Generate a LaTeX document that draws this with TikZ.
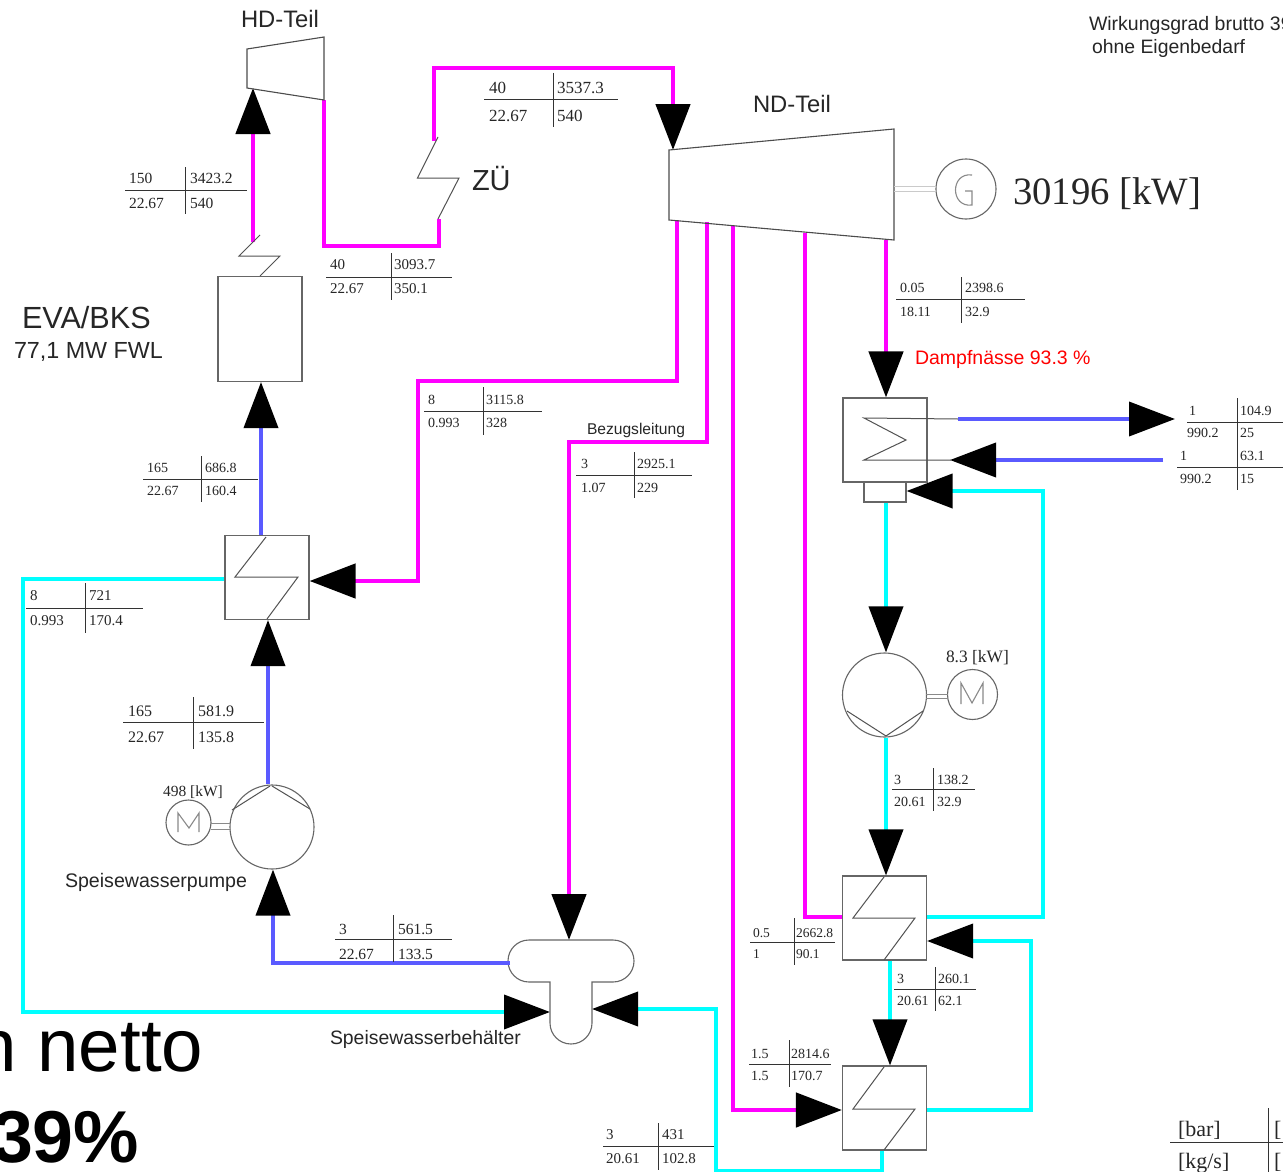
\documentclass[tikz,border=0pt]{standalone}
\usepackage{fontspec}
\setmainfont{Liberation Serif}
\setsansfont{Liberation Sans}
\usetikzlibrary{arrows.meta,calc}
\definecolor{steam}{HTML}{FF00FF}
\definecolor{cool}{HTML}{00FFFF}
\definecolor{feed}{HTML}{5A5AFF}
\definecolor{edge}{HTML}{666666}
\definecolor{shaft}{HTML}{8A8A8A}
\newcount\cellcnt
\newcommand{\fs}[1]{\fontsize{#1}{#1}\selectfont}
% state table cross: x1,x2,y of the bar; xv,y1,y2 of the stem
\newcommand{\rulecross}[6]{\draw[tabrule] (#1,#3) -- (#2,#3) (#4,#5) -- (#4,#6);}
% one table cell: size, x, centre y, text
\newcommand{\cell}[4]{\global\advance\cellcnt by 1
  \node[celltext,font=\fs{#1}] (c\the\cellcnt) at (#2,#3+0.33*#1) {#4};}
\newcommand{\lab}[4]{\global\advance\cellcnt by 1
  \node[celltext,font=\sffamily\fs{#1}] (c\the\cellcnt) at (#2,#3+0.36*#1) {#4};}
\tikzset{
  celltext/.style={anchor=base west,inner sep=0pt,outer sep=0pt,text=black!85},
  tabrule/.style={draw=black!80,line width=1pt},
  part/.style={draw=edge,line width=1.1pt,fill=white,inner sep=0pt},
  thin part/.style={draw=edge!80!black,line width=1pt},
  round part/.style={part,circle},
  turbine/.style={draw=black!70,line width=1.1pt},
  steampipe/.style={draw=steam,line width=4.6pt,miter limit=10},
  coolpipe/.style={draw=cool,line width=3.8pt},
  feedpipe/.style={draw=feed,line width=3.8pt},
  tip/.style={-{Triangle[length=46pt,width=34pt,color=black,fill=black]}},
  shaftline/.style={draw=shaft,line width=1pt},
  glyph/.style={draw=shaft,line width=1.1pt},
}
\begin{document}
\begin{tikzpicture}[x=1pt,y=-1pt]
\useasboundingbox (0,0) rectangle (1283,1172);
\clip (0,0) rectangle (1283,1172);
\fill[white] (0,0) rectangle (1283,1172);

% corner text under everything
\node[celltext,font=\sffamily\fs{74.5},text=black] (nettotext) at (-24.5,1071) {n netto};
\node[celltext,font=\sffamily\bfseries\fs{73.5},text=black] (pct) at (-8,1162) {39\%};

% equipment
\node[part,minimum width=84pt,minimum height=105pt] (eva) at (260,329) {};
\node[part,minimum width=84pt,minimum height=84pt] (hxa) at (267,577.5) {};
\node[part,minimum width=84pt,minimum height=84pt] (hxb) at (884.5,918) {};
\node[part,minimum width=84pt,minimum height=84pt] (hxc) at (884.5,1108) {};
\node[part,minimum width=84pt,minimum height=84pt] (cond) at (885,440) {};
\node[part,minimum width=42pt,minimum height=20pt] (hot) at (885,492) {};
\node[round part,minimum size=84pt] (pumpa) at (272,827) {};
\node[round part,minimum size=84pt] (pumpb) at (884.5,695) {};
\node[round part,minimum size=45pt] (motora) at (188.5,822.5) {};
\node[round part,minimum size=50pt] (motorb) at (972.5,694.5) {};
\node[round part,minimum size=60pt] (gen) at (966,189) {};

% named connection points
\coordinate (hdin) at (253,88);
\coordinate (hdout) at (324,100);
\coordinate (ndin) at (673,150);
\coordinate (evatop) at (253,242);
\coordinate (zuin) at (439,219);
\coordinate (zuout) at (434,141);
\coordinate (ndx1) at (677,220);
\coordinate (ndx2) at (707,222);
\coordinate (ndx3) at (733,226);
\coordinate (ndx4) at (805,233);
\coordinate (ndx5) at (886,240);
\coordinate (tanktop) at (569,940);
\coordinate (tankout) at (510,963);
\coordinate (tankl) at (550,1012);
\coordinate (tankr) at (592,1009);
\coordinate (cwout) at (958,419);
\coordinate (cwoutend) at (1175,419);
\coordinate (cwin) at (1163,460);
\coordinate (cwinend) at (950,460);

% steam lines
\draw[steampipe,tip] (evatop) -- (hdin);
\draw[steampipe] (hdout) -- (324,246) -- (439,246) -- (zuin);
\draw[steampipe,tip] (zuout) -- (434,68) -- (673,68) -- (ndin);
\draw[steampipe,tip] (ndx1) -- (677,381) -- (418,381) -- (418,581) -- (hxa.east |- 0,581);
\draw[steampipe,tip] (ndx2) -- (707,442) -- (569,442) -- (tanktop);
\draw[steampipe,tip] (ndx3) -- (733,1110) -- (hxc.west |- 0,1110);
\draw[steampipe] (ndx4) -- (805,917) -- (hxb.west |- 0,917);
\draw[steampipe,tip] (ndx5) -- (cond.north -| ndx5);

% feed water lines
\draw[feedpipe,tip] (hxa.north -| 261,0) -- (eva.south -| 261,0);
\draw[feedpipe,tip] (pumpa.north -| 268,0) -- (hxa.south -| 268,0);
\draw[feedpipe,tip] (tankout) -- (273,963) -- (pumpa.south -| 273,0);
\draw[feedpipe,tip] (cwout) -- (cwoutend);
\draw[feedpipe,tip] (cwin) -- (cwinend);

% condensate lines
\draw[coolpipe,tip] (hxa.west |- 0,579) -- (23,579) -- (23,1012) -- (tankl);
\draw[coolpipe,tip] (hxc.south -| 882,0) -- (882,1171) -- (716,1171) -- (716,1009) -- (tankr);
\draw[coolpipe,tip] (hxb.east |- 0,917) -- (1043,917) -- (1043,491) -- (hot.east |- 0,491);
\draw[coolpipe,tip] (hot.south -| 886,0) -- (pumpb.north -| 886,0);
\draw[coolpipe,tip] (pumpb.south -| 886,0) -- (hxb.north -| 886,0);
\draw[coolpipe,tip] (hxb.south -| 890,0) -- (hxc.north -| 890,0);
\draw[coolpipe,tip] (hxc.east |- 0,1110) -- (1031,1110) -- (1031,941) -- (hxb.east |- 0,941);

% turbines
\draw[turbine] (247,49) -- (324,37) -- (324,100) -- (247,88) -- cycle;
\draw[turbine] (669,150) -- (894,129) -- (894,240) -- (669,220) -- cycle;

% tank
\draw[part,fill=white] (529,940) -- (613,940) to[out=0,in=90] (634,961) to[out=-90,in=0] (613,982) -- (592,982) -- (592,1023) to[out=-90,in=0] (571,1044) to[out=180,in=-90] (550,1023) -- (550,982) -- (529,982) to[out=180,in=-90] (508,961) to[out=90,in=180] (529,940) -- cycle;
\draw[feedpipe] (tankout) -- ++(-4,0);

% heater zigzags
\draw[thin part] (266,537) -- (235,577) -- (298,577) -- (267,619);
\draw[thin part] (884,877) -- (853,918) -- (915,918) -- (884,960);
\draw[thin part] (884,1067) -- (853,1109) -- (915,1109) -- (884,1150);
\draw[thin part] (260,235) -- (239,256) -- (280,256) -- (260,276);
\draw[thin part] (438,137) -- (417.5,178) -- (459,178) -- (438,219);
\draw[thin part] (958,419) -- (864,418) -- (906,440) -- (864,460) -- (951,460);

% pump details
\draw[thin part] (270,786) -- (232,810) (272,786) -- (310,809);
\draw[thin part] (886,736) -- (847,711) (886,736) -- (923,711);
\draw[shaftline] (211,823) -- (231,823) (211,829) -- (231,829);
\draw[shaftline] (926,694) -- (948,694) (926,698) -- (948,698);
\draw[shaftline,draw=shaft!45] (894,186) -- (936,186) (894,191) -- (936,191);
\draw[glyph] (178,832) -- (178,813) -- (189,828) -- (199,813) -- (199,832);
\draw[glyph] (961,704) -- (961,683) -- (972,703) -- (983,683) -- (983,704);
\draw[glyph] (972,175) .. controls (950,172) and (950,208) .. (972,205) -- (972,191) -- (965,191);

% state tables
\rulecross{125}{247}{190}{185}{167}{214}
\cell{15.5}{129}{178}{150}\cell{15.5}{190}{178}{3423.2}\cell{15.5}{129}{203}{22.67}\cell{15.5}{190}{203}{540}
\rulecross{326}{452}{277}{391}{253}{300}
\cell{15}{330}{265}{40}\cell{15}{394}{265}{3093.7}\cell{15}{330}{289}{22.67}\cell{15}{394}{289}{350.1}
\rulecross{484}{618}{99}{553}{73}{127}
\cell{17}{489}{88}{40}\cell{17}{557}{88}{3537.3}\cell{17}{489}{116}{22.67}\cell{17}{557}{116}{540}
\rulecross{424}{542}{411}{483}{387}{435}
\cell{14}{428}{400}{8}\cell{14}{486}{400}{3115.8}\cell{14}{428}{423}{0.993}\cell{14}{486}{423}{328}
\rulecross{576}{692}{475}{634}{452}{498}
\cell{14}{581}{464}{3}\cell{14}{637}{464}{2925.1}\cell{14}{581}{488}{1.07}\cell{14}{637}{488}{229}
\rulecross{896}{1025}{299}{961}{277}{323}
\cell{14}{900}{288}{0.05}\cell{14}{965}{288}{2398.6}\cell{14}{900}{312}{18.11}\cell{14}{965}{312}{32.9}
\draw[tabrule] (1187,422) -- (1283,422) (1177,467) -- (1283,467) (1237,398) -- (1237,490);
\cell{14}{1189}{411}{1}\cell{14}{1240}{411}{104.9}\cell{14}{1187}{433}{990.2}\cell{14}{1240}{433}{25}
\cell{14}{1180}{456}{1}\cell{14}{1240}{456}{63.1}\cell{14}{1180}{479}{990.2}\cell{14}{1240}{479}{15}
\rulecross{143}{258}{479}{201}{456}{502}
\cell{14}{147}{468}{165}\cell{14}{205}{468}{686.8}\cell{14}{147}{491}{22.67}\cell{14}{205}{491}{160.4}
\rulecross{26}{143}{608}{85}{583}{633}
\cell{15}{30}{596}{8}\cell{15}{89}{596}{721}\cell{15}{30}{621}{0.993}\cell{15}{89}{621}{170.4}
\rulecross{123}{264}{722}{193}{697}{749}
\cell{16}{128}{711}{165}\cell{16}{198}{711}{581.9}\cell{16}{128}{737}{22.67}\cell{16}{198}{737}{135.8}
\rulecross{335}{452}{939}{393.5}{915}{962}
\cell{15.5}{339}{929}{3}\cell{15.5}{398}{929}{561.5}\cell{15.5}{339}{954}{22.67}\cell{15.5}{398}{954}{133.5}
\rulecross{603}{714}{1146}{658}{1123}{1170}
\cell{15}{606}{1135}{3}\cell{15}{662}{1135}{431}\cell{15}{606}{1159}{20.61}\cell{15}{662}{1159}{102.8}
\rulecross{750}{835}{942}{794}{918}{965}
\cell{13.5}{753}{933}{0.5}\cell{13.5}{796}{933}{2662.8}\cell{13.5}{753}{954}{1}\cell{13.5}{796}{954}{90.1}
\rulecross{749}{831}{1064}{789}{1040}{1087}
\cell{14}{751}{1054}{1.5}\cell{14}{791}{1054}{2814.6}\cell{14}{751}{1076}{1.5}\cell{14}{791}{1076}{170.7}
\rulecross{892}{975}{789}{933}{768}{811}
\cell{14}{894}{780}{3}\cell{14}{937}{780}{138.2}\cell{14}{894}{802}{20.61}\cell{14}{937}{802}{32.9}
\rulecross{894}{976}{989}{935}{967}{1011}
\cell{14}{897}{979}{3}\cell{14}{938}{979}{260.1}\cell{14}{897}{1001}{20.61}\cell{14}{938}{1001}{62.1}
\rulecross{1170}{1283}{1142}{1268}{1108}{1172}
\cell{22}{1178}{1129}{[bar]}\cell{22}{1178}{1161}{[kg/s]}\cell{22}{1274}{1129}{[}\cell{22}{1274}{1161}{[}

% power figures
\cell{38.7}{1013}{192}{30196 [kW]}
\cell{15.5}{163}{791}{498 [kW]}
\cell{17.4}{946}{657}{8.3 [kW]}

% labels
\lab{23.8}{241}{19}{HD-Teil}
\lab{23.8}{753}{104}{ND-Teil}
\lab{29}{472}{180}{ZÜ}
\lab{30.6}{22}{317}{EVA/BKS}
\lab{23.3}{14}{350}{77,1 MW FWL}
\lab{19.5}{1089}{23}{Wirkungsgrad brutto 39}
\lab{19.4}{1092}{47}{ohne Eigenbedarf}
\global\advance\cellcnt by 1
\node[celltext,font=\sffamily\fs{19.5},text=red] (dampf) at (915,364) {Dampfnässe 93.3 \%};
\lab{19.6}{65}{880}{Speisewasserpumpe}
\lab{19.4}{330}{1038}{Speisewasserbehälter}
\lab{15.6}{587}{429}{Bezugsleitung}
\end{tikzpicture}
\end{document}
